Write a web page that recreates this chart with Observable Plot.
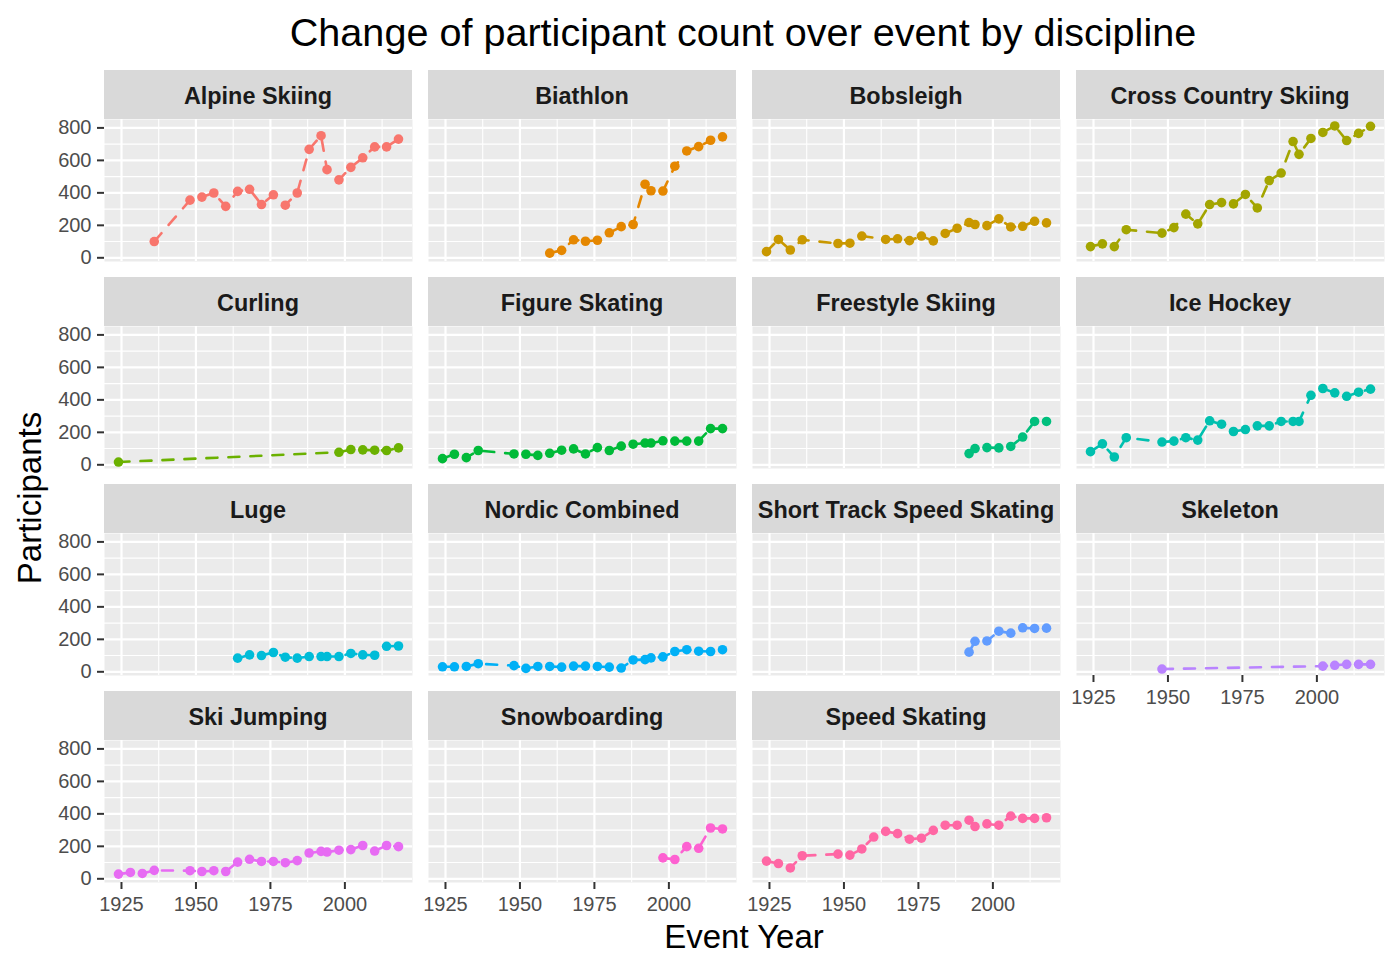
<!DOCTYPE html>
<html><head><meta charset="utf-8">
<script src="https://cdn.jsdelivr.net/npm/d3@7"></script>
<script src="https://cdn.jsdelivr.net/npm/@observablehq/plot@0.6"></script>
<style>
body{margin:0;background:#fff;}
#root{position:relative;width:1400px;height:970px;font-family:"Liberation Sans",Arial,sans-serif;overflow:hidden;}
.panel{position:absolute;}
.panel svg{background:transparent;overflow:visible;}
.strip{position:absolute;background:#D9D9D9;height:49px;width:308px;text-align:center;font-weight:bold;font-size:23.4px;line-height:49px;padding-top:2px;box-sizing:border-box;color:#1A1A1A;}
#overlay{position:absolute;left:0;top:0;pointer-events:none;}
</style></head><body><div id="root"></div>
<script>
const disciplines = ["Alpine Skiing","Biathlon","Bobsleigh","Cross Country Skiing","Curling","Figure Skating","Freestyle Skiing","Ice Hockey","Luge","Nordic Combined","Short Track Speed Skating","Skeleton","Ski Jumping","Snowboarding","Speed Skating"];
const colors = ["#F8766D","#E58700","#C99800","#A3A500","#6BB100","#00BA38","#00BF7D","#00C0AF","#00BCD8","#00B0F6","#619CFF","#B983FF","#E76BF3","#FD61D1","#FF67A4"];

const allYears = [1924,1928,1932,1936,1948,1952,1956,1960,1964,1968,1972,1976,1980,1984,1988,1992,1994,1998,2002,2006,2010,2014,2018];

const alpineYears = [1936,1948,1952,1956,1960,1964,1968,1972,1976,1980,1984,1988,1992,1994,1998,2002,2006,2010,2014,2018];
const alpineCounts = [100,355,374,399,317,409,422,328,388,324,399,668,752,543,480,557,616,683,683,731];
const biathlonYears = [1960,1964,1968,1972,1976,1980,1984,1988,1992,1994,1998,2002,2006,2010,2014,2018];
const biathlonCounts = [29,46,111,102,108,154,192,205,453,413,411,564,658,685,724,745];
const bobsleighYears = [1924,1928,1932,1936,1948,1952,1956,1964,1968,1972,1976,1980,1984,1988,1992,1994,1998,2002,2006,2010,2014,2018];
const bobsleighCounts = [38,113,48,111,88,90,134,113,117,106,134,104,150,182,217,205,198,240,190,194,225,215];
const crossCountryYears = allYears;
const crossCountryCounts = [69,86,69,173,152,186,269,209,328,340,332,390,307,476,522,716,637,735,772,812,722,766,810];
const curlingYears = [1924,1998,2002,2006,2010,2014,2018];
const curlingCounts = [17,77,94,92,90,88,104];
const figureSkatingYears = allYears;
const figureSkatingCounts = [38,65,44,88,67,65,58,71,90,98,67,106,88,115,127,134,134,148,146,146,146,223,223];
const freestyleYears = [1992,1994,1998,2002,2006,2010,2014,2018];
const freestyleCounts = [69,100,106,104,113,171,267,267];
const iceHockeyYears = allYears;
const iceHockeyCounts = [81,129,48,167,140,146,167,152,271,250,205,217,240,240,267,267,267,428,470,443,422,447,466];
const lugeYears = [1964,1968,1972,1976,1980,1984,1988,1992,1994,1998,2002,2006,2010,2014,2018];
const lugeCounts = [84,104,100,119,90,84,94,94,94,94,113,104,102,157,159];
const nordicYears = allYears;
const nordicCounts = [31,31,33,50,38,21,33,33,29,35,35,33,29,23,73,75,86,92,125,136,127,125,136];
const shortTrackYears = [1992,1994,1998,2002,2006,2010,2014,2018];
const shortTrackCounts = [121,188,190,250,238,271,267,269];
const skeletonYears = [1948,2002,2006,2010,2014,2018];
const skeletonCounts = [17,35,40,46,46,46];
const skiJumpingYears = allYears;
const skiJumpingCounts = [29,39,33,52,50,45,50,45,103,120,107,107,99,112,159,169,165,176,180,205,171,205,198];
const snowboardingYears = [1998,2002,2006,2010,2014,2018];
const snowboardingCounts = [129,119,198,188,313,307];
const speedSkatingYears = allYears;
const speedSkatingCounts = [109,94,67,142,152,146,184,257,292,278,244,250,298,330,330,361,322,338,330,386,372,372,376];

const xTicks = [1925,1950,1975,2000];
const xMinorTicks = [1937.5,1962.5,1987.5,2012.5];
const yTicks = [0,200,400,600,800];
const yMinorTicks = [100,300,500,700];

const titleText = "Change of participant count over event by discipline";
const xTitle = "Event Year";
const yTitle = "Participants";

const seriesYears = [alpineYears,biathlonYears,bobsleighYears,crossCountryYears,curlingYears,figureSkatingYears,freestyleYears,iceHockeyYears,lugeYears,nordicYears,shortTrackYears,skeletonYears,skiJumpingYears,snowboardingYears,speedSkatingYears];
const seriesCounts = [alpineCounts,biathlonCounts,bobsleighCounts,crossCountryCounts,curlingCounts,figureSkatingCounts,freestyleCounts,iceHockeyCounts,lugeCounts,nordicCounts,shortTrackCounts,skeletonCounts,skiJumpingCounts,snowboardingCounts,speedSkatingCounts];

const rows = disciplines.flatMap((d,i)=>seriesYears[i].map((y,j)=>({discipline:d, year:y, count:seriesCounts[i][j]})));

function expand(ext){const r=ext[1]-ext[0];return [ext[0]-0.05*r, ext[1]+0.05*r];}
const xDomain = expand(d3.extent(rows,r=>r.year));
const yDomain = expand(d3.extent(rows,r=>r.count));

const root = document.getElementById("root");
const colX = [104,428,752,1076];
const stripTop = [70,277,484,691];
const PW = 308, PH = 142, SH = 49;
const font = '"Liberation Sans",Arial,sans-serif';

disciplines.forEach((name,i)=>{
  const col=i%4,row=Math.floor(i/4);
  const showY = col===0;
  const showX = i>=11;
  const ml = showY?104:0, mb = showX?40:0;
  const d = rows.filter(r=>r.discipline===name);
  const strip = document.createElement("div");
  strip.className="strip";
  strip.style.left=colX[col]+"px"; strip.style.top=stripTop[row]+"px";
  strip.textContent=name;
  root.appendChild(strip);
  const p = Plot.plot({
    width:PW+ml, height:PH+mb,
    marginLeft:ml, marginRight:0, marginTop:0, marginBottom:mb,
    x:{domain:xDomain, axis:null},
    y:{domain:yDomain, axis:null},
    style:{fontFamily:font, background:"transparent", overflow:"visible"},
    marks:[
      Plot.frame({fill:"#EBEBEB", stroke:"none"}),
      Plot.ruleX(xMinorTicks,{stroke:"#FFFFFF",strokeWidth:1.1}),
      Plot.ruleY(yMinorTicks,{stroke:"#FFFFFF",strokeWidth:1.1}),
      Plot.ruleX(xTicks,{stroke:"#FFFFFF",strokeWidth:2.2}),
      Plot.ruleY(yTicks,{stroke:"#FFFFFF",strokeWidth:2.2}),
      showY ? Plot.axisY({ticks:yTicks, label:null, tickSize:7, tickPadding:6, fontSize:20, stroke:"#333333", strokeWidth:2, fill:"#4D4D4D", tickFormat:v=>String(v)}) : null,
      showX ? Plot.axisX({ticks:xTicks, label:null, tickSize:7, tickPadding:7, fontSize:20, stroke:"#333333", strokeWidth:2, fill:"#4D4D4D", tickFormat:v=>String(v)}) : null,
      Plot.line(d,{x:"year",y:"count",stroke:colors[i],strokeWidth:2.6,strokeDasharray:"11,11"}),
      Plot.dot(d,{x:"year",y:"count",fill:colors[i],stroke:"none",r:4.8})
    ]
  });
  const wrap = document.createElement("div");
  wrap.className="panel";
  wrap.style.left=(colX[col]-ml)+"px";
  wrap.style.top=(stripTop[row]+SH)+"px";
  wrap.appendChild(p);
  root.appendChild(wrap);
});

const ns="http://www.w3.org/2000/svg";
const ov=document.createElementNS(ns,"svg");
ov.setAttribute("id","overlay");ov.setAttribute("width",1400);ov.setAttribute("height",970);
function addText(txt,x,y,size,transform){
  const t=document.createElementNS(ns,"text");
  t.setAttribute("x",x);t.setAttribute("y",y);t.setAttribute("text-anchor","middle");
  t.setAttribute("font-size",size);t.setAttribute("font-family",font);t.setAttribute("fill","#000");
  if(transform)t.setAttribute("transform",transform);
  t.textContent=txt;ov.appendChild(t);
}
addText(titleText,743,46,39.6);
addText(xTitle,744,948,33);
addText(yTitle,0,0,33,"translate(41,498) rotate(-90)");
root.appendChild(ov);
</script>
</body></html>
